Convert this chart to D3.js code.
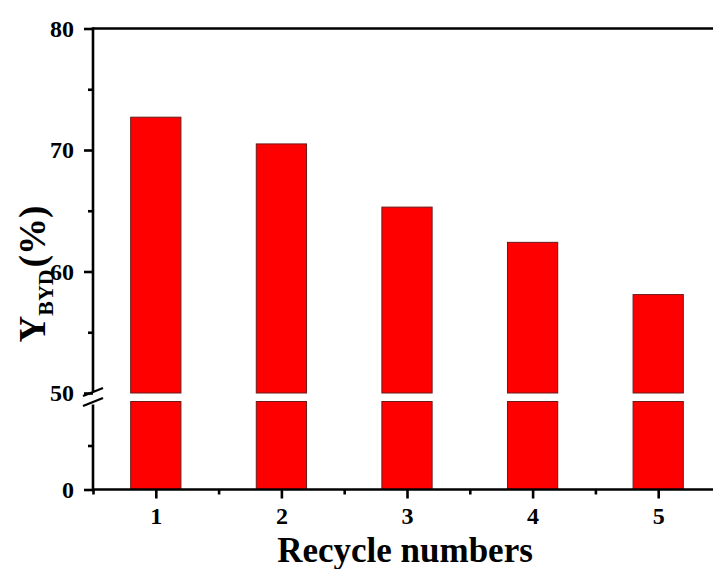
<!DOCTYPE html>
<html>
<head>
<meta charset="utf-8">
<script src="https://cdn.jsdelivr.net/npm/d3@7"></script>
<style>
  html, body { margin: 0; padding: 0; background: #fff; }
  svg { display: block; font-family: "Liberation Serif", "Times New Roman", serif; font-weight: bold; }
</style>
</head>
<body>
<svg id="chart" width="713" height="569"></svg>
<script>
// Yield of BYD over successive catalyst recycles
const cycles = [1, 2, 3, 4, 5];
const yieldValues = [72.7, 70.5, 65.3, 62.4, 58.1];

const yTopMajor = [50, 60, 70, 80];
const yTopMinor = [55, 65, 75];
const yBotMajor = [0];
const yBotMinor = [25];
const xMajor = [1, 2, 3, 4, 5];
const xMinor = [0.5, 1.5, 2.5, 3.5, 4.5];

const svg = d3.select("#chart");

const x = d3.scaleLinear().domain([0.5, 5.5]).range([93, 721]);
// broken y axis: upper segment 50–80, lower segment 0–50
const yTop = d3.scaleLinear().domain([50, 80]).range([393, 28.5]);
const yBot = d3.scaleLinear().domain([0, 50]).range([489.5, 401.5]);
const barW = x(1.2) - x(0.8);

// bars, split into two pieces across the break
const bars = svg.append("g");
bars.selectAll("rect.bot").data(cycles).join("rect")
  .attr("x", d => x(d) - barW / 2)
  .attr("y", yBot(50))
  .attr("width", barW)
  .attr("height", yBot(0) - yBot(50))
  .attr("fill", "#ff0000").attr("stroke", "#6b1a1a").attr("stroke-width", 1);
bars.selectAll("rect.top").data(cycles).join("rect")
  .attr("x", d => x(d) - barW / 2)
  .attr("y", (d, i) => yTop(yieldValues[i]))
  .attr("width", barW)
  .attr("height", (d, i) => yTop(50) - yTop(yieldValues[i]))
  .attr("fill", "#ff0000").attr("stroke", "#6b1a1a").attr("stroke-width", 1);

const axisStroke = 2.6;
const tickFont = 24;

function styleAxis(g) {
  g.select(".domain").remove();
  g.selectAll(".tick line").attr("stroke", "#000").attr("stroke-width", axisStroke);
  g.selectAll(".tick text").attr("fill", "#000").style("font-size", tickFont + "px").style("font-weight", "bold")
    .style("font-family", "'Liberation Serif', 'Times New Roman', serif");
}

// upper y axis
svg.append("g").attr("transform", "translate(93,0)")
  .call(d3.axisLeft(yTop).tickValues(yTopMajor).tickSize(9).tickPadding(10).tickFormat(d3.format("d")))
  .call(styleAxis);
svg.append("g").attr("transform", "translate(93,0)")
  .call(d3.axisLeft(yTop).tickValues(yTopMinor).tickSize(5).tickFormat(""))
  .call(styleAxis);
// lower y axis
svg.append("g").attr("transform", "translate(93,0)")
  .call(d3.axisLeft(yBot).tickValues(yBotMajor).tickSize(9).tickPadding(10).tickFormat(d3.format("d")))
  .call(styleAxis);
svg.append("g").attr("transform", "translate(93,0)")
  .call(d3.axisLeft(yBot).tickValues(yBotMinor).tickSize(5).tickFormat(""))
  .call(styleAxis);

// x axis
svg.append("g").attr("transform", `translate(0,${yBot(0)})`)
  .call(d3.axisBottom(x).tickValues(xMajor).tickSize(9).tickPadding(8).tickFormat(d3.format("d")))
  .call(styleAxis);
svg.append("g").attr("transform", `translate(0,${yBot(0)})`)
  .call(d3.axisBottom(x).tickValues(xMinor).tickSize(5).tickFormat(""))
  .call(styleAxis);

// axis lines
const lines = svg.append("g").attr("stroke", "#000").attr("stroke-width", axisStroke).attr("fill", "none");
lines.append("line").attr("x1", x(0.5)).attr("x2", 713).attr("y1", yBot(0)).attr("y2", yBot(0));
lines.append("line").attr("x1", x(0.5)).attr("x2", 713).attr("y1", yTop(80)).attr("y2", yTop(80));
lines.append("line").attr("x1", x(0.5)).attr("x2", x(0.5)).attr("y1", yTop(80) - 1.3).attr("y2", yTop(50) - 2);
lines.append("line").attr("x1", x(0.5)).attr("x2", x(0.5)).attr("y1", yBot(50) + 3).attr("y2", yBot(0) + 1.3);
// break marks
[yTop(50) - 1, yBot(50) + 0.5].forEach(cy => {
  lines.append("line")
    .attr("x1", x(0.5) - 10).attr("y1", cy + 4)
    .attr("x2", x(0.5) + 10).attr("y2", cy - 4)
    .attr("stroke-width", 2.4);
});

// axis titles
svg.append("text")
  .attr("x", 405).attr("y", 562)
  .attr("text-anchor", "middle")
  .style("font-size", "35px")
  .text("Recycle numbers");

const yt = svg.append("text")
  .attr("transform", "translate(45,274) rotate(-90)")
  .attr("text-anchor", "middle")
  .style("font-size", "37px");
yt.append("tspan").text("Y");
yt.append("tspan").attr("dy", 8).style("font-size", "22px").text("BYD");
yt.append("tspan").attr("dy", -8).attr("dx", 2).text("(%)");
</script>
</body>
</html>
